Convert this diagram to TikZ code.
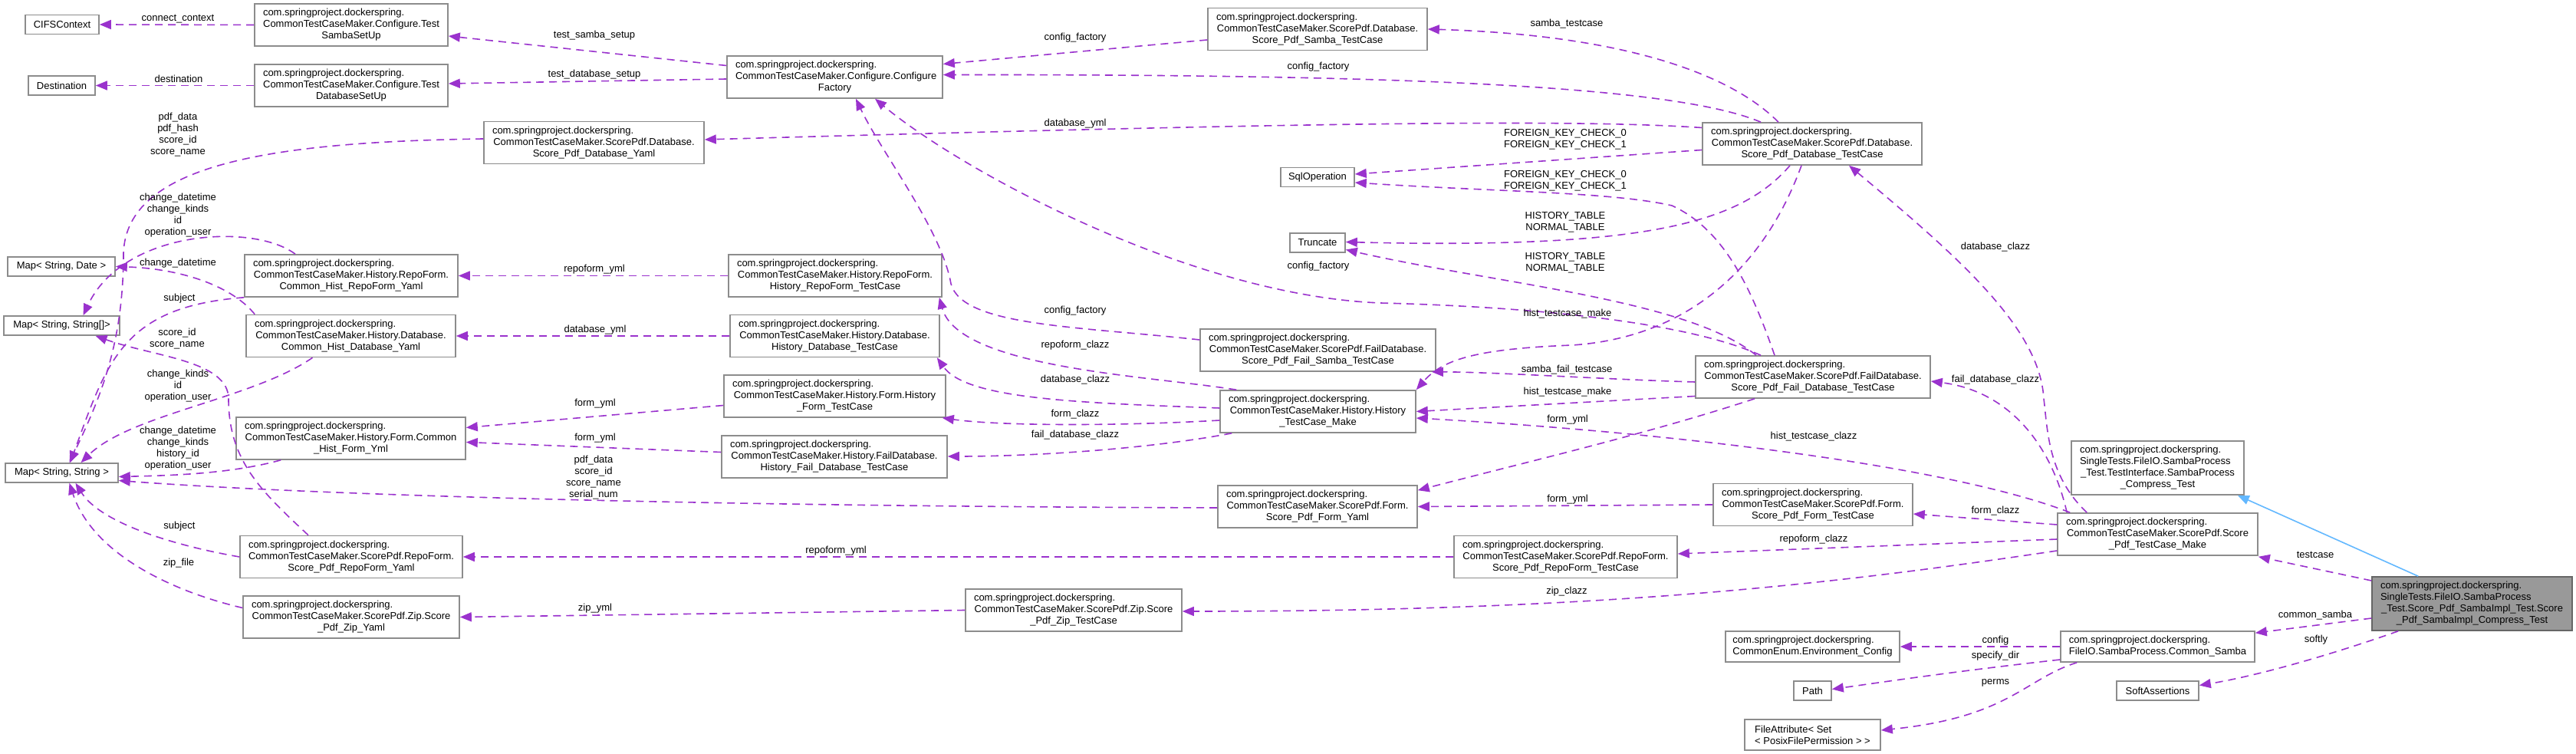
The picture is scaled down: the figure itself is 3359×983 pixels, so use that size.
\documentclass[tikz,border=0pt]{standalone}
\usepackage{fontspec}
\setmainfont{Liberation Sans}
\usepackage{tikz}
\usetikzlibrary{arrows.meta,calc}
\definecolor{edgepurple}{HTML}{9A32CD}
\definecolor{inhblue}{HTML}{63B8FF}
\definecolor{boxgray}{HTML}{8C8C8C}
\definecolor{focusgray}{HTML}{999999}
\definecolor{focusline}{HTML}{666666}
\newcommand{\clsfont}{\fontsize{6.5}{7.5}\selectfont}
\newcommand{\leftln}[1]{\makebox[\hsize][l]{#1}}
\tikzset{
  cls/.style={rectangle,draw=boxgray,fill=white,line width=0.8pt,
    inner xsep=0pt,inner ysep=0pt,font=\clsfont,align=center},
  focus/.style={cls,draw=focusline,fill=focusgray},
  bw/.code={\pgfmathsetlengthmacro\clsmw{#1*0.5pt}%
    \edef\clstmp{\noexpand\tikzset{minimum width=\clsmw}}\clstmp},
  tw/.code={\pgfmathsetlengthmacro\clsmw{#1*0.5pt}%
    \pgfmathsetlengthmacro\clstw{(#1-22)*0.5pt}%
    \edef\clstmp{\noexpand\tikzset{minimum width=\clsmw,text width=\clstw}}\clstmp},
  nl/.code={\pgfmathsetlengthmacro\clsh{(#1*15+10)*0.5pt}%
    \edef\clstmp{\noexpand\tikzset{minimum height=\clsh}}\clstmp},
  lbl/.style={font=\clsfont,align=center,inner sep=0pt},
  dep/.style={-{Triangle[length=7.5pt,width=6pt]},color=edgepurple,
    line width=0.8pt,dash pattern=on 5pt off 3.5pt},
  inh/.style={-{Triangle[length=7.5pt,width=6pt]},color=inhblue,line width=0.8pt},
}
\begin{document}
\begin{tikzpicture}[x=0.5pt,y=-0.5pt]
  \useasboundingbox (0,0) rectangle (3359,983);

  % plain types
  \node[cls,bw=96,nl=1]  (cifs)    at (81,32)      {CIFSContext};
  \node[cls,bw=87,nl=1]  (dest)    at (80.5,111.5) {Destination};
  \node[cls,bw=140,nl=1] (mapdate) at (80,347.5)   {Map< String, Date >};
  \node[cls,bw=151,nl=1] (maparr)  at (80.5,424.5) {Map< String, String[]>};
  \node[cls,bw=147,nl=1] (mapstr)  at (80.5,616.5) {Map< String, String >};
  \node[cls,bw=96,nl=1]  (sqlop)   at (1718,231)   {SqlOperation};
  \node[cls,bw=72,nl=1]  (trunc)   at (1718,316.5) {Truncate};
  \node[cls,bw=49,nl=1]  (path)    at (2363.5,900.5) {Path};
  \node[cls,bw=107,nl=1] (softassert) at (2813.5,900.5) {SoftAssertions};
  \node[cls,bw=177,nl=2,align=left] (fattr) at (2363.5,958) {FileAttribute< Set\\< PosixFilePermission > >};

  % yaml holders
  \node[cls,tw=252,nl=3] (sambasetup) at (458,32.5) {\leftln{com.springproject.dockerspring.}\\CommonTestCaseMaker.Configure.Test\\SambaSetUp};
  \node[cls,tw=252,nl=3] (dbsetup) at (458,111.5) {\leftln{com.springproject.dockerspring.}\\CommonTestCaseMaker.Configure.Test\\DatabaseSetUp};
  \node[cls,tw=287,nl=3] (pdbyaml) at (774.5,186) {\leftln{com.springproject.dockerspring.}\\CommonTestCaseMaker.ScorePdf.Database.\\Score\_Pdf\_Database\_Yaml};
  \node[cls,tw=278,nl=3] (hrepoyaml) at (458,359.5) {\leftln{com.springproject.dockerspring.}\\CommonTestCaseMaker.History.RepoForm.\\Common\_Hist\_RepoForm\_Yaml};
  \node[cls,tw=273,nl=3] (hdbyaml) at (457.5,438) {\leftln{com.springproject.dockerspring.}\\CommonTestCaseMaker.History.Database.\\Common\_Hist\_Database\_Yaml};
  \node[cls,tw=299,nl=3] (hformyml) at (457.5,571.5) {\leftln{com.springproject.dockerspring.}\\CommonTestCaseMaker.History.Form.Common\\\_Hist\_Form\_Yml};
  \node[cls,tw=290,nl=3] (prepoyaml) at (458,726) {\leftln{com.springproject.dockerspring.}\\CommonTestCaseMaker.ScorePdf.RepoForm.\\Score\_Pdf\_RepoForm\_Yaml};
  \node[cls,tw=282,nl=3] (pzipyaml) at (458,804.5) {\leftln{com.springproject.dockerspring.}\\CommonTestCaseMaker.ScorePdf.Zip.Score\\\_Pdf\_Zip\_Yaml};

  % history test cases
  \node[cls,tw=281,nl=3] (cfactory) at (1088.5,100.5) {\leftln{com.springproject.dockerspring.}\\CommonTestCaseMaker.Configure.Configure\\Factory};
  \node[cls,tw=278,nl=3] (hrepotc) at (1089,359.5) {\leftln{com.springproject.dockerspring.}\\CommonTestCaseMaker.History.RepoForm.\\History\_RepoForm\_TestCase};
  \node[cls,tw=273,nl=3] (hdbtc) at (1088.5,438) {\leftln{com.springproject.dockerspring.}\\CommonTestCaseMaker.History.Database.\\History\_Database\_TestCase};
  \node[cls,tw=289,nl=3] (hformtc) at (1088.5,516.5) {\leftln{com.springproject.dockerspring.}\\CommonTestCaseMaker.History.Form.History\\\_Form\_TestCase};
  \node[cls,tw=294,nl=3] (hfaildbtc) at (1088,595.5) {\leftln{com.springproject.dockerspring.}\\CommonTestCaseMaker.History.FailDatabase.\\History\_Fail\_Database\_TestCase};
  \node[cls,tw=282,nl=3] (pziptc) at (1400,795.5) {\leftln{com.springproject.dockerspring.}\\CommonTestCaseMaker.ScorePdf.Zip.Score\\\_Pdf\_Zip\_TestCase};

  % score pdf test cases
  \node[cls,tw=286,nl=3] (psambatc) at (1718,38) {\leftln{com.springproject.dockerspring.}\\CommonTestCaseMaker.ScorePdf.Database.\\Score\_Pdf\_Samba\_TestCase};
  \node[cls,tw=307,nl=3] (pfailsambatc) at (1718.5,456.5) {\leftln{com.springproject.dockerspring.}\\CommonTestCaseMaker.ScorePdf.FailDatabase.\\Score\_Pdf\_Fail\_Samba\_TestCase};
  \node[cls,tw=255,nl=3] (hmake) at (1718.5,536.5) {\leftln{com.springproject.dockerspring.}\\CommonTestCaseMaker.History.History\\\_TestCase\_Make};
  \node[cls,tw=260,nl=3] (pformyaml) at (1718,660.5) {\leftln{com.springproject.dockerspring.}\\CommonTestCaseMaker.ScorePdf.Form.\\Score\_Pdf\_Form\_Yaml};
  \node[cls,tw=291,nl=3] (prepotc) at (2041.5,726) {\leftln{com.springproject.dockerspring.}\\CommonTestCaseMaker.ScorePdf.RepoForm.\\Score\_Pdf\_RepoForm\_TestCase};
  \node[cls,tw=286,nl=3] (pdbtc) at (2363,187.5) {\leftln{com.springproject.dockerspring.}\\CommonTestCaseMaker.ScorePdf.Database.\\Score\_Pdf\_Database\_TestCase};
  \node[cls,tw=306,nl=3] (pfaildbtc) at (2364,491.5) {\leftln{com.springproject.dockerspring.}\\CommonTestCaseMaker.ScorePdf.FailDatabase.\\Score\_Pdf\_Fail\_Database\_TestCase};
  \node[cls,tw=260,nl=3] (pformtc) at (2364,658) {\leftln{com.springproject.dockerspring.}\\CommonTestCaseMaker.ScorePdf.Form.\\Score\_Pdf\_Form\_TestCase};
  \node[cls,bw=227,nl=2,align=left] (envconf) at (2363.5,843) {com.springproject.dockerspring.\\CommonEnum.Environment\_Config};

  % right side
  \node[cls,tw=225,nl=4] (compresstest) at (2813.5,610) {\leftln{com.springproject.dockerspring.}\\\leftln{SingleTests.FileIO.SambaProcess}\\\_Test.TestInterface.SambaProcess\\\_Compress\_Test};
  \node[cls,tw=261,nl=3] (pmake) at (2813.5,696.5) {\leftln{com.springproject.dockerspring.}\\CommonTestCaseMaker.ScorePdf.Score\\\_Pdf\_TestCase\_Make};
  \node[cls,bw=253,nl=2,align=left] (csamba) at (2813.5,843) {com.springproject.dockerspring.\\FileIO.SambaProcess.Common\_Samba};
  \node[focus,tw=261,nl=4] (main) at (3223.5,787) {\leftln{com.springproject.dockerspring.}\\\leftln{SingleTests.FileIO.SambaProcess}\\\_Test.Score\_Pdf\_SambaImpl\_Test.Score\\\_Pdf\_SambaImpl\_Compress\_Test};

  % connectors, left part
  \draw[dep] (sambasetup.west) -- (cifs.east);
  \draw[dep] (dbsetup.west) -- (dest.east);
  \draw[dep] ($(cfactory.west)+(0,-15)$) -- ($(sambasetup.east)+(0,14.5)$);
  \draw[dep] ($(cfactory.west)+(0,2.5)$) -- ($(dbsetup.east)+(0,-2.5)$);
  \draw[dep] ($(pdbyaml.west)+(0,-5)$) .. controls (350,185) and (165,215) .. (161,330)
    .. controls (161,450) and (130,520) .. ($(mapstr.north)+(10,0)$);
  \draw[dep] ($(hrepoyaml.north)+(-73,0)$) .. controls (330,290) and (160,300) .. ($(maparr.north)+(28,0)$);
  \draw[dep] ($(hdbyaml.north west)+(12,0)$) .. controls (300,370) and (230,350) .. (mapdate.east);
  \draw[dep] (hrepoyaml.south west) .. controls (160,400) and (140,470) .. ($(mapstr.north)+(11,0)$);
  \draw[dep] ($(hdbyaml.south)+(-50,0)$) .. controls (330,520) and (170,540) .. ($(mapstr.north)+(25,0)$);
  \draw[dep] ($(prepoyaml.north)+(-56,0)$) .. controls (340,640) and (298,600) .. (298,520)
    .. controls (298,470) and (200,465) .. ($(maparr.south)+(44,0)$);
  \draw[dep] ($(hformyml.south west)+(59,0)$) .. controls (300,618) and (220,620) .. ($(mapstr.east)+(0,5)$);
  \draw[dep] ($(pformyaml.west)+(0,1.5)$) .. controls (900,660) and (400,645) .. ($(mapstr.east)+(0,10)$);
  \draw[dep] (prepoyaml.west) .. controls (220,710) and (130,680) .. ($(mapstr.south)+(18,0)$);
  \draw[dep] ($(pzipyaml.west)+(0,-12)$) .. controls (220,770) and (120,720) .. ($(mapstr.south)+(10,0)$);
  \draw[dep] (hrepotc.west) -- (hrepoyaml.east);
  \draw[dep] (hdbtc.west) -- (hdbyaml.east);
  \draw[dep] ($(hformtc.west)+(0,12)$) -- ($(hformyml.east)+(0,-14)$);
  \draw[dep] ($(hfaildbtc.west)+(0,-6)$) -- ($(hformyml.east)+(0,5)$);
  \draw[dep] (pziptc.west) -- (pzipyaml.east);
  \draw[dep] (prepotc.west) -- (prepoyaml.east);

  % connectors, middle part
  \draw[dep] ($(psambatc.west)+(0,14)$) -- ($(cfactory.east)+(0,-17)$);
  \draw[dep] ($(pdbtc.north)+(-67,0)$) .. controls (2180,110) and (1800,97) .. ($(cfactory.east)+(0,-3)$);
  \draw[dep] ($(pdbtc.north)+(-44,0)$) .. controls (2250,90) and (2100,45) .. (psambatc.east);
  \draw[dep] ($(pdbtc.west)+(0,-21)$) .. controls (2050,155) and (1700,160) .. ($(pdbyaml.east)+(0,-4)$);
  \draw[dep] ($(pdbtc.west)+(0,8)$) -- ($(sqlop.east)+(0,-4)$);
  \draw[dep] ($(pfaildbtc.north)+(-50,0)$) .. controls (2285,380) and (2250,300) .. (2180,268)
    .. controls (2100,250) and (1950,250) .. ($(sqlop.east)+(0,7)$);
  \draw[dep] ($(pdbtc.south)+(-29,0)$) .. controls (2270,290) and (2150,325) .. ($(trunc.east)+(0,-1)$);
  \draw[dep] ($(pfaildbtc.north)+(-74,0)$) .. controls (2200,390) and (1950,370) .. ($(trunc.east)+(0,9)$);
  \draw[dep] ($(pfaildbtc.north)+(-68,0)$) .. controls (2200,420) and (2000,400) .. (1800,395)
    .. controls (1550,385) and (1250,220) .. ($(cfactory.south)+(52.5,0)$);
  \draw[dep] ($(pfailsambatc.west)+(0,-13.5)$) .. controls (1400,425) and (1255,425) .. (1240,370)
    .. controls (1228,300) and (1150,200) .. ($(cfactory.south)+(27.5,0)$);
  \draw[dep] ($(hmake.north west)+(22,0)$) .. controls (1500,490) and (1250,480) .. ($(hrepotc.south east)+(-4,0)$);
  \draw[dep] ($(hmake.west)+(0,-4.5)$) .. controls (1400,525) and (1260,520) .. ($(hdbtc.south east)+(-4,0)$);
  \draw[dep] ($(hmake.west)+(0,11.5)$) .. controls (1450,556) and (1300,555) .. ($(hformtc.south east)+(-5,0)$);
  \draw[dep] ($(hmake.south west)+(16,0)$) .. controls (1500,585) and (1350,595) .. ($(hfaildbtc.east)+(0,-0.5)$);
  \draw[dep] ($(pdbtc.south)+(-14,0)$) .. controls (2300,350) and (2200,440) .. (2050,450)
    .. controls (1920,455) and (1880,470) .. (hmake.north east);
  \draw[dep] ($(pfaildbtc.west)+(0,6.5)$) .. controls (2100,495) and (1950,485) .. ($(pfailsambatc.south east)+(-6,0)$);
  \draw[dep] ($(pfaildbtc.west)+(0,25)$) -- (hmake.east);
  \draw[dep] ($(pfaildbtc.south)+(-76,0)$) .. controls (2150,565) and (2000,600) .. ($(pformyaml.north east)+(0,7)$);

  % connectors, right part
  \draw[dep] ($(pmake.north west)+(17,0)$) .. controls (2550,610) and (2200,565) .. ($(hmake.east)+(0,8.5)$);
  \draw[dep] (pformtc.west) -- (pformyaml.east);
  \draw[dep] ($(pmake.west)+(0,-12.5)$) -- ($(pformtc.east)+(0,12)$);
  \draw[dep] ($(pmake.west)+(0,6.5)$) -- ($(prepotc.east)+(0,-4)$);
  \draw[dep] ($(pmake.west)+(0,21.5)$) .. controls (2400,760) and (2100,797) .. ($(pziptc.east)+(0,1.5)$);
  \draw[dep] ($(pmake.north west)+(13,0)$) .. controls (2675,580) and (2620,510) .. ($(pfaildbtc.east)+(0,5.5)$);
  \draw[dep] ($(pmake.north west)+(39,0)$) .. controls (2670,620) and (2670,560) .. (2665,520)
    .. controls (2660,430) and (2560,340) .. ($(pdbtc.south)+(48,0)$);
  \draw[dep] ($(main.west)+(0,-30)$) -- ($(pmake.south east)+(0,1)$);
  \draw[dep] ($(main.west)+(0,19)$) -- ($(csamba.north east)+(0,3)$);
  \draw[dep] ($(main.south west)+(35,0)$) .. controls (3050,850) and (2950,880) .. ($(softassert.east)+(0,-7)$);
  \draw[inh] ($(main.north west)+(61,0)$) -- ($(compresstest.south east)+(-9,0)$);
  \draw[dep] (csamba.west) -- (envconf.east);
  \draw[dep] ($(csamba.west)+(0,17)$) .. controls (2550,875) and (2450,890) .. ($(path.east)+(0,-2)$);
  \draw[dep] ($(csamba.south west)+(22,0)$) .. controls (2640,885) and (2620,935) .. ($(fattr.east)+(0,-6)$);

  % edge labels
  \node[lbl] (lcon)   at (232,25)    {connect\_context};
  \node[lbl] (ldest)  at (233,103)   {destination};
  \node[lbl] (ltss)   at (775,46)    {test\_samba\_setup};
  \node[lbl] (ltds)   at (775,97)    {test\_database\_setup};
  \node[lbl] (lpdf)   at (232,176)   {pdf\_data\\pdf\_hash\\score\_id\\score\_name};
  \node[lbl] (lhrarr) at (232,281)   {change\_datetime\\change\_kinds\\id\\operation\_user};
  \node[lbl] (lhddt)  at (232,343)   {change\_datetime};
  \node[lbl] (lhrsub) at (234,389)   {subject};
  \node[lbl] (lprarr) at (231,441.5) {score\_id\\score\_name};
  \node[lbl] (lhdstr) at (232,503)   {change\_kinds\\id\\operation\_user};
  \node[lbl] (lhfstr) at (232,585)   {change\_datetime\\change\_kinds\\history\_id\\operation\_user};
  \node[lbl] (lpfstr) at (774,622.5) {pdf\_data\\score\_id\\score\_name\\serial\_num};
  \node[lbl] (lprsub) at (234,686)   {subject};
  \node[lbl] (lzipf)  at (233,734)   {zip\_file};
  \node[lbl] (lhry)   at (775,351)   {repoform\_yml};
  \node[lbl] (lhdy)   at (776,430)   {database\_yml};
  \node[lbl] (lhfy)   at (776,526)   {form\_yml};
  \node[lbl] (lhffy)  at (776,571)   {form\_yml};
  \node[lbl] (lzipy)  at (776,793)   {zip\_yml};
  \node[lbl] (lpry)   at (1090,718)  {repoform\_yml};
  \node[lbl] (lcf1)   at (1402,49)   {config\_factory};
  \node[lbl] (lcf2)   at (1719,87)   {config\_factory};
  \node[lbl] (lstc)   at (2043,31)   {samba\_testcase};
  \node[lbl] (lpdy)   at (1402,161)  {database\_yml};
  \node[lbl] (lfk1)   at (2041,181.5) {FOREIGN\_KEY\_CHECK\_0\\FOREIGN\_KEY\_CHECK\_1};
  \node[lbl] (lfk2)   at (2041,235.5) {FOREIGN\_KEY\_CHECK\_0\\FOREIGN\_KEY\_CHECK\_1};
  \node[lbl] (ltab1)  at (2041,289.5) {HISTORY\_TABLE\\NORMAL\_TABLE};
  \node[lbl] (ltab2)  at (2041,343)  {HISTORY\_TABLE\\NORMAL\_TABLE};
  \node[lbl] (lcf3)   at (1719,347)  {config\_factory};
  \node[lbl] (lcf4)   at (1402,405)  {config\_factory};
  \node[lbl] (lrc)    at (1402,450)  {repoform\_clazz};
  \node[lbl] (ldc)    at (1402,495)  {database\_clazz};
  \node[lbl] (lfc)    at (1402,540)  {form\_clazz};
  \node[lbl] (lfdc)   at (1402,567)  {fail\_database\_clazz};
  \node[lbl] (lhtm1)  at (2044,409)  {hist\_testcase\_make};
  \node[lbl] (lsft)   at (2043,482)  {samba\_fail\_testcase};
  \node[lbl] (lhtm2)  at (2044,511)  {hist\_testcase\_make};
  \node[lbl] (lfy1)   at (2044,547)  {form\_yml};
  \node[lbl] (lhtc)   at (2365,569)  {hist\_testcase\_clazz};
  \node[lbl] (lfy2)   at (2044,651)  {form\_yml};
  \node[lbl] (lpfc)   at (2602,666)  {form\_clazz};
  \node[lbl] (lprc)   at (2365,703)  {repoform\_clazz};
  \node[lbl] (lzc)    at (2043,771)  {zip\_clazz};
  \node[lbl] (lpfdc)  at (2602,495)  {fail\_database\_clazz};
  \node[lbl] (lpdc)   at (2602,322)  {database\_clazz};
  \node[lbl] (ltc)    at (3019,723)  {testcase};
  \node[lbl] (lcs)    at (3019,802)  {common\_samba};
  \node[lbl] (lsoft)  at (3020,834)  {softly};
  \node[lbl] (lconf)  at (2602,835)  {config};
  \node[lbl] (lsdir)  at (2602,855)  {specify\_dir};
  \node[lbl] (lperm)  at (2602,890)  {perms};
\end{tikzpicture}
\end{document}
